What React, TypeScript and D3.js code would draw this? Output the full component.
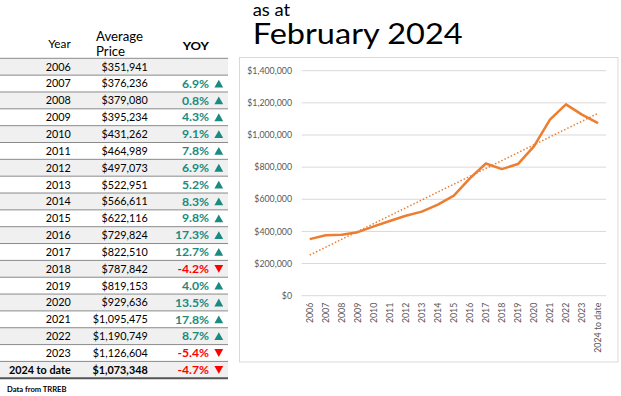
import React from "react";
import * as d3 from "d3";

const years = ["2006","2007","2008","2009","2010","2011","2012","2013","2014","2015","2016","2017","2018","2019","2020","2021","2022","2023","2024 to date"];
const prices = [351941,376236,379080,395234,431262,464989,497073,522951,566611,622116,729824,822510,787842,819153,929636,1095475,1190749,1126604,1073348];
const yoy: (number | null)[] = [null,6.9,0.8,4.3,9.1,7.8,6.9,5.2,8.3,9.8,17.3,12.7,-4.2,4.0,13.5,17.8,8.7,-5.4,-4.7];
const yTicks = [0,200000,400000,600000,800000,1000000,1200000,1400000];

const FONT = "Lato, 'Open Sans', sans-serif";
const ORANGE = "#ed7d31";
const TEAL = "#1b8a80";
const RED = "#ff0000";

export default function App() {
  const x = d3.scaleBand<string>().domain(years).range([301.7, 606]);
  const cx = (c: string) => (x(c) as number) + x.bandwidth() / 2;
  const y = d3.scaleLinear().domain([0, 1400000]).range([295.7, 70.7]);
  const fmt = d3.format(",");
  const line = d3.line<number>().x((_, i) => cx(years[i])).y((d) => y(d));

  // linear trend (least squares)
  const n = prices.length;
  const idx = d3.range(n);
  const mx = d3.mean(idx) as number;
  const my = d3.mean(prices) as number;
  const slope = d3.sum(idx, (i) => (i - mx) * (prices[i] - my)) / d3.sum(idx, (i) => (i - mx) ** 2);
  const icpt = my - slope * mx;
  const trend = [icpt, icpt + slope * (n - 1)];

  const rowTop = 58.3;
  const rowH = 16.84;

  return (
    <svg width={621} height={396} style={{ position: "absolute", left: 0, top: 0, background: "#fff" }} fontFamily={FONT}>
      {/* Table header */}
      <text x={70.7} y={48} textAnchor="end" fontSize={12} fill="#000" textLength={22.4} lengthAdjust="spacingAndGlyphs">Year</text>
      <text x={96} y={40.5} fontSize={12.5} fill="#000" textLength={47} lengthAdjust="spacingAndGlyphs">Average</text>
      <text x={96} y={56} fontSize={12.5} fill="#000" textLength={29} lengthAdjust="spacingAndGlyphs">Price</text>
      <text x={209} y={49.5} textAnchor="end" fontSize={12} fontWeight="bold" fill="#000" textLength={26.3} lengthAdjust="spacingAndGlyphs">YOY</text>

      {/* Table rows */}
      {years.map((yr, i) => {
        const top = rowTop + i * rowH;
        const base = top + rowH / 2 + 3.9;
        const last = i === years.length - 1;
        const v = yoy[i];
        const col = v != null && v < 0 ? RED : TEAL;
        const tx = 218.8;
        const tri = v == null ? null : v >= 0
          ? `M${tx - 4.4},${base} L${tx + 4.4},${base} L${tx},${base - 7.8} Z`
          : `M${tx - 4.4},${base - 7.8} L${tx + 4.4},${base - 7.8} L${tx},${base} Z`;
        return (
          <g key={yr}>
            {i % 2 === 0 && <rect x={0} y={top} width={228} height={rowH} fill="#f0f0f0" />}
            <text x={70.7} y={base} textAnchor="end" fontSize={10.8} fontWeight={last ? "bold" : "normal"} fill="#000">{yr}</text>
            <text x={147.7} y={base} textAnchor="end" fontSize={10.8} fontWeight={last ? "bold" : "normal"} fill="#000">{"$" + fmt(prices[i])}</text>
            {v != null && (
              <text x={209} y={base + 0.3} textAnchor="end" fontSize={12.2} fontWeight="bold" fill={col}>{v.toFixed(1) + "%"}</text>
            )}
            {tri && <path d={tri} fill={col} />}
          </g>
        );
      })}
      {years.map((yr, i) => (
        <line key={"l" + yr} x1={0} x2={228} y1={rowTop + i * rowH} y2={rowTop + i * rowH} stroke="#8a8a8a" strokeWidth={1} />
      ))}
      <line x1={0} x2={228} y1={rowTop + years.length * rowH} y2={rowTop + years.length * rowH} stroke="#555" strokeWidth={2} />
      <text x={7} y={392} fontSize={7.6} fontWeight="bold" fill="#000">Data from TRREB</text>

      {/* Title */}
      <text x={252.7} y={15.5} fontSize={16.5} fill="#000" textLength={37.5} lengthAdjust="spacingAndGlyphs">as at</text>
      <text x={252.7} y={44.3} fontSize={29.5} fill="#000" textLength={210} lengthAdjust="spacingAndGlyphs">February 2024</text>

      {/* Chart frame */}
      <rect x={239.5} y={57.5} width={378.5} height={304.5} fill="#fff" stroke="#d9d9d9" strokeWidth={1} />

      {/* Grid and y axis */}
      {yTicks.map((t) => (
        <g key={t}>
          <line x1={301.7} x2={606} y1={y(t)} y2={y(t)} stroke="#d9d9d9" strokeWidth={1} />
          <text x={292} y={y(t) + 3.1} textAnchor="end" fontSize={8.8} fill="#595959">{"$" + fmt(t)}</text>
        </g>
      ))}

      {/* X labels */}
      {years.map((c) => (
        <text key={c} transform={`translate(${cx(c) + 3},${302.7}) rotate(-90)`} textAnchor="end" fontSize={8.8} fill="#595959">{c}</text>
      ))}

      {/* Trendline */}
      <line x1={cx(years[0])} x2={cx(years[n - 1])} y1={y(trend[0])} y2={y(trend[1])} stroke={ORANGE} strokeWidth={1.5} strokeDasharray="1.5,2" />

      {/* Data line */}
      <path d={line(prices) as string} fill="none" stroke={ORANGE} strokeWidth={2.5} strokeLinejoin="round" />
    </svg>
  );
}
